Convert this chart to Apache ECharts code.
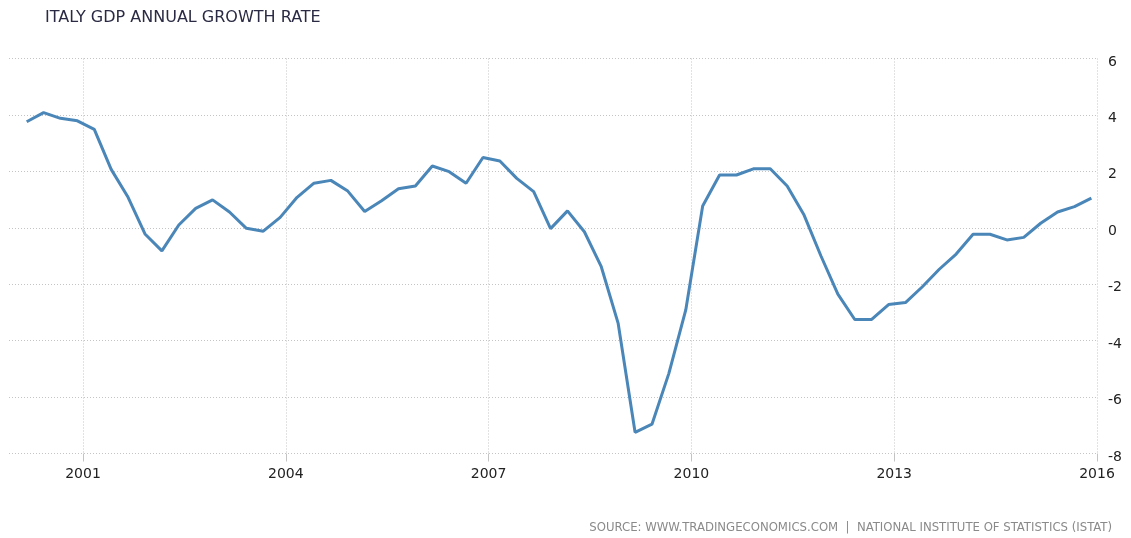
<!DOCTYPE html>
<html>
<head>
<meta charset="utf-8">
<script src="https://cdn.jsdelivr.net/npm/echarts@6/dist/echarts.min.js"></script>
<style>
  html, body { margin: 0; padding: 0; background: #fff; }
  #main { width: 1131px; height: 538px; }
</style>
</head>
<body>
<div id="main"></div>
<script>
// quarterly points, plotted at the start of each quarter's last month (month index 2, 5, 8, 11)
var quarterMonths = [2, 5, 8, 11];
var years = [2000, 2001, 2002, 2003, 2004, 2005, 2006, 2007,
             2008, 2009, 2010, 2011, 2012, 2013, 2014, 2015];
var growth = [
    3.76, 4.08, 3.88, 3.79,
    3.49, 2.07, 1.08, -0.22,
    -0.82, 0.10, 0.69, 0.99,
    0.56, -0.02, -0.12, 0.37,
    1.08, 1.58, 1.68, 1.30,
    0.58, 0.96, 1.38, 1.48,
    2.19, 1.99, 1.58, 2.49,
    2.37, 1.75, 1.28, -0.03,
    0.60, -0.14, -1.38, -3.39,
    -7.25, -6.96, -5.16, -2.91,
    0.77, 1.87, 1.87, 2.09,
    2.09, 1.48, 0.45, -1.00,
    -2.35, -3.25, -3.25, -2.72,
    -2.65, -2.09, -1.47, -0.93,
    -0.23, -0.23, -0.43, -0.34,
    0.16, 0.56, 0.75, 1.05
];
var tickYears = [2001, 2004, 2007, 2010, 2013, 2016];

var chart = echarts.init(document.getElementById('main'));

// x in decimal years
var points = [];
years.forEach(function (y, i) {
    quarterMonths.forEach(function (m, q) {
        points.push([y + m / 12, growth[i * 4 + q]]);
    });
});

var gridStyle = { color: '#c4c4c4', type: [1, 2], width: 1 };

option = {
    animation: false,
    title: {
        text: 'ITALY GDP ANNUAL GROWTH RATE',
        left: 40,
        top: 5,
        textStyle: {
            fontFamily: 'DejaVu Sans',
            fontSize: 16,
            fontWeight: 'normal',
            color: '#2a2a44'
        }
    },
    grid: {
        left: 9,
        right: 34,
        top: 58.5,
        bottom: 84.5
    },
    xAxis: {
        type: 'value',
        min: 1999.905,
        max: 2016,
        axisLine: { show: false, onZero: false },
        axisTick: {
            show: true,
            length: 8,
            customValues: tickYears,
            lineStyle: { color: '#c4c4c4' }
        },
        axisLabel: {
            customValues: tickYears,
            formatter: function (v) { return String(v); },
            margin: 14,
            fontFamily: 'DejaVu Sans',
            fontSize: 14,
            color: '#222'
        },
        splitLine: { show: true, lineStyle: gridStyle }
    },
    yAxis: {
        type: 'value',
        position: 'right',
        min: -8,
        max: 6,
        interval: 2,
        axisLine: { show: false },
        axisTick: { show: false },
        axisLabel: {
            margin: 11,
            verticalAlign: 'top',
            lineHeight: 7,
            fontFamily: 'DejaVu Sans',
            fontSize: 14,
            color: '#222'
        },
        splitLine: { show: true, lineStyle: gridStyle }
    },
    series: [{
        type: 'line',
        data: points,
        showSymbol: false,
        smooth: false,
        lineStyle: { color: '#4a86b8', width: 3 },
        itemStyle: { color: '#4a86b8' }
    }],
    graphic: [{
        type: 'text',
        right: 19,
        top: 521,
        style: {
            text: 'SOURCE: WWW.TRADINGECONOMICS.COM  |  NATIONAL INSTITUTE OF STATISTICS (ISTAT)',
            fontFamily: 'DejaVu Sans Condensed',
            fontSize: 13,
            fill: '#8a8a8a'
        }
    }]
};

chart.setOption(option);
</script>
</body>
</html>
